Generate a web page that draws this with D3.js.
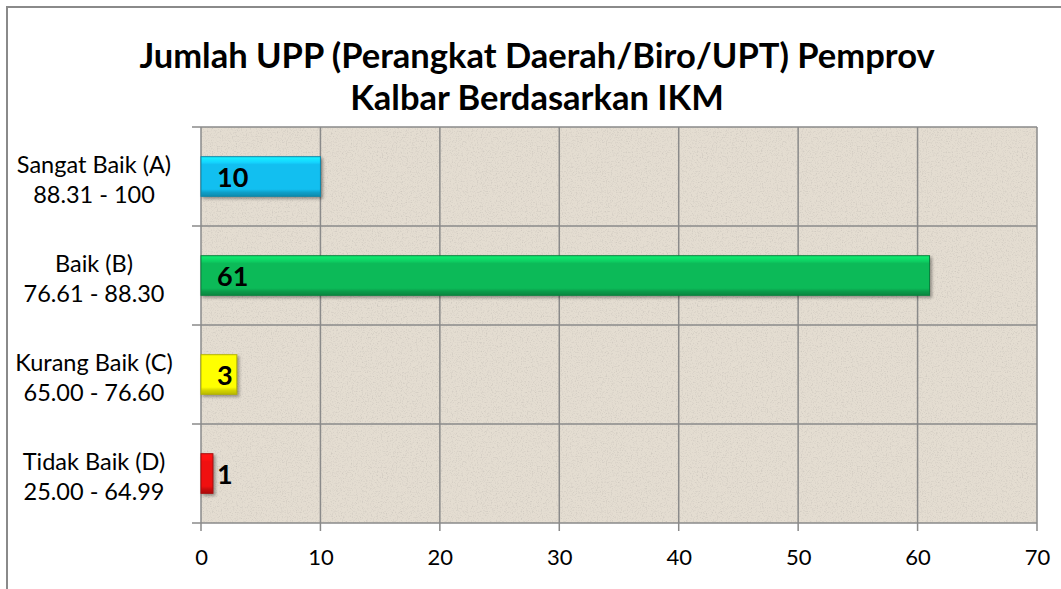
<!DOCTYPE html>
<html>
<meta charset="utf-8">
<style>
  body { margin: 0; background: #fff; }
  text { font-family: Lato, "Open Sans", sans-serif; fill: #000; }
</style>
<body>
<script src="https://d3js.org/d3.v7.min.js"></script>
<script>
// chart values
var categories = ["Sangat Baik (A)|88.31 - 100", "Baik (B)|76.61 - 88.30", "Kurang Baik (C)|65.00 - 76.60", "Tidak Baik (D)|25.00 - 64.99"];
var counts = [10, 61, 3, 1];
var barColors = ["#12bff0", "#0cba58", "#ffff00", "#f01010"];
var xTicks = [0, 10, 20, 30, 40, 50, 60, 70];
var titleLines = ["Jumlah UPP (Perangkat Daerah/Biro/UPT) Pemprov", "Kalbar Berdasarkan IKM"];

var W = 1061, H = 589;
var plot = {left: 201, right: 1037, top: 127, bottom: 523};

var svg = d3.select("body").append("svg")
    .attr("width", W)
    .attr("height", H);

var defs = svg.append("defs");

// paper-like texture for plot area
var f = defs.append("filter").attr("id", "paper").attr("x", 0).attr("y", 0).attr("width", 1).attr("height", 1);
f.append("feTurbulence").attr("type", "fractalNoise").attr("baseFrequency", 0.8).attr("numOctaves", 2).attr("seed", 4).attr("result", "n");
f.append("feColorMatrix").attr("in", "n").attr("type", "matrix")
  .attr("values", "0 0 0 0 0.5  0 0 0 0 0.47  0 0 0 0 0.43  0 0 0 -1.4 0.72").attr("result", "dots");
f.append("feFlood").attr("flood-color", "#e4ddd1").attr("result", "bg");
f.append("feMerge").call(function(m) {
  m.append("feMergeNode").attr("in", "bg");
  m.append("feMergeNode").attr("in", "dots");
});

// bevel gradients for bars
barColors.forEach(function(c, i) {
  var g = defs.append("linearGradient").attr("id", "bar" + i)
      .attr("x1", 0).attr("y1", 0).attr("x2", 0).attr("y2", 1);
  var base = d3.color(c);
  g.append("stop").attr("offset", "0%").attr("stop-color", base.brighter(0.7));
  g.append("stop").attr("offset", "14%").attr("stop-color", base.brighter(0.3));
  g.append("stop").attr("offset", "20%").attr("stop-color", base);
  g.append("stop").attr("offset", "82%").attr("stop-color", base);
  g.append("stop").attr("offset", "90%").attr("stop-color", base.darker(0.5));
  g.append("stop").attr("offset", "100%").attr("stop-color", base.darker(0.9));
});

// outer chart border
svg.append("rect")
  .attr("x", 7).attr("y", 7)
  .attr("width", W + 10).attr("height", H + 10)
  .attr("fill", "none")
  .attr("stroke", "#8a8a8a")
  .attr("stroke-width", 2);

// title
svg.append("g").selectAll("text")
  .data(titleLines)
  .enter().append("text")
  .attr("x", 537)
  .attr("y", function(d, i) { return 68 + i * 42; })
  .attr("text-anchor", "middle")
  .style("font-weight", "bold")
  .style("font-size", "34.5px")
  .text(function(d) { return d; });

var xScale = d3.scaleLinear().domain([0, 70]).range([plot.left, plot.right]);
var yScale = d3.scaleBand().domain(categories).range([plot.top, plot.bottom]).paddingInner(0.6).paddingOuter(0.3);

// plot background
svg.append("rect")
  .attr("x", plot.left).attr("y", plot.top)
  .attr("width", plot.right - plot.left).attr("height", plot.bottom - plot.top)
  .attr("filter", "url(#paper)");

// gridlines
svg.append("g").selectAll("line")
  .data(xTicks)
  .enter().append("line")
  .attr("x1", function(d) { return xScale(d); })
  .attr("x2", function(d) { return xScale(d); })
  .attr("y1", plot.top).attr("y2", plot.bottom + 8)
  .attr("stroke", "#8a8a8a").attr("stroke-width", 1.5);

var band = (plot.bottom - plot.top) / categories.length;
var hLines = d3.range(categories.length + 1).map(function(i) { return plot.top + i * band; });
svg.append("g").selectAll("line")
  .data(hLines)
  .enter().append("line")
  .attr("x1", plot.left - 9).attr("x2", plot.right)
  .attr("y1", function(d) { return d; })
  .attr("y2", function(d) { return d; })
  .attr("stroke", "#8a8a8a").attr("stroke-width", 1.5);

// x axis labels
var xAxis = d3.axisBottom(xScale).tickValues(xTicks).tickSize(0).tickPadding(26);
var xg = svg.append("g")
  .attr("transform", "translate(0," + plot.bottom + ")")
  .call(xAxis);
xg.select(".domain").remove();
xg.selectAll("text").style("font-size", "22px").style("font-family", "Lato, sans-serif").attr("fill", "#000");

// category labels (two lines)
var yl = svg.append("g").selectAll("text")
  .data(categories)
  .enter().append("text")
  .attr("text-anchor", "middle")
  .style("font-size", "23.5px");
yl.each(function(d) {
  var parts = d.split("|");
  var yc = yScale(d) + yScale.bandwidth() / 2;
  d3.select(this).selectAll("tspan")
    .data(parts).enter().append("tspan")
    .attr("x", 94)
    .attr("y", function(p, i) { return yc - 4 + i * 30; })
    .text(function(p) { return p; });
});

// bars
var bars = svg.append("g").selectAll("rect")
  .data(counts)
  .enter().append("rect")
  .attr("x", xScale(0))
  .attr("y", function(d, i) { return yScale(categories[i]); })
  .attr("width", function(d) { return xScale(d) - xScale(0); })
  .attr("height", yScale.bandwidth())
  .attr("fill", function(d, i) { return "url(#bar" + i + ")"; })
  .attr("stroke", function(d, i) { return d3.color(barColors[i]).darker(1); })
  .attr("stroke-width", 1)
  .style("filter", "drop-shadow(2px 2px 1.5px rgba(0,0,0,0.35))");

// value labels
svg.append("g").selectAll("text")
  .data(counts)
  .enter().append("text")
  .attr("x", xScale(0) + 16)
  .attr("y", function(d, i) { return yScale(categories[i]) + yScale.bandwidth() / 2 + 10; })
  .style("font-weight", "bold")
  .style("font-size", "27px")
  .text(function(d) { return d; });
</script>
</body>
</html>
